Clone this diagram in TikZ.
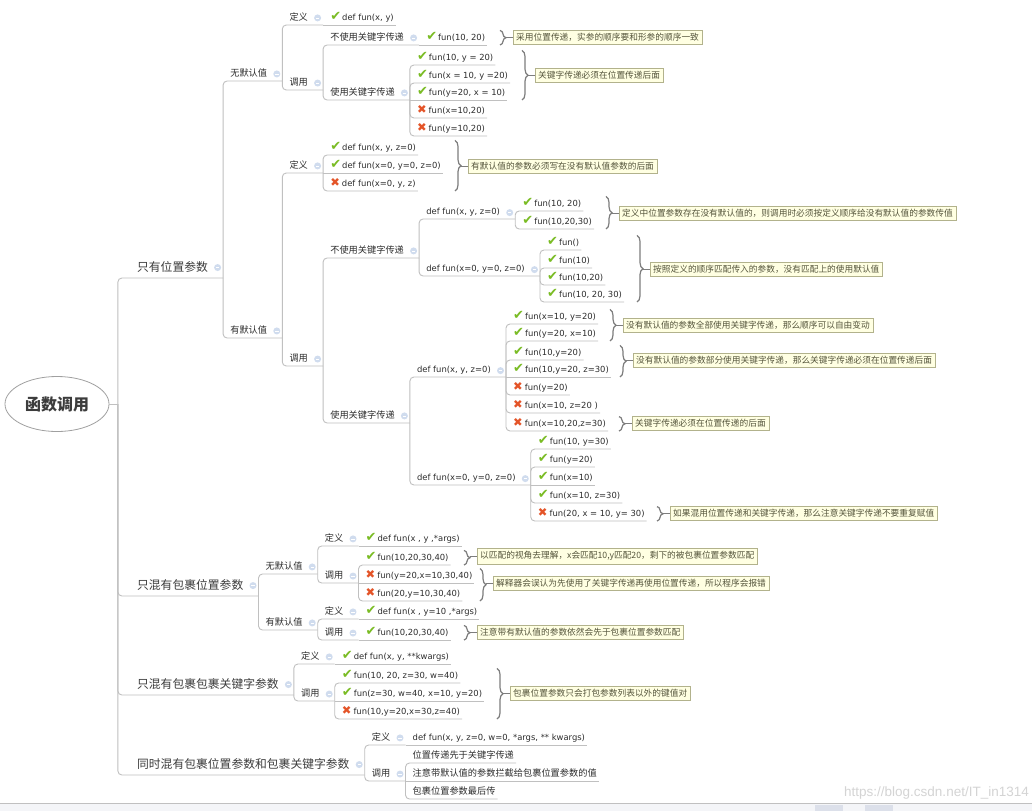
\documentclass[tikz,border=0pt]{standalone}
\usepackage{fontspec}
\usetikzlibrary{shapes.geometric,decorations.pathreplacing}
\newfontfamily\cjk{Noto Sans CJK SC}
\newfontfamily\code{DejaVu Sans}
\newfontfamily\webfont{Liberation Sans}
\definecolor{linegray}{RGB}{192,192,192}
\definecolor{ink}{RGB}{45,45,45}
\definecolor{topicink}{RGB}{60,60,60}
\definecolor{rootline}{RGB}{160,160,160}
\definecolor{knobfill}{RGB}{208,220,238}
\definecolor{notefill}{RGB}{255,255,226}
\definecolor{noteline}{RGB}{178,178,140}
\definecolor{notetext}{RGB}{85,85,60}
\definecolor{bracegray}{RGB}{125,125,125}
\definecolor{okgreen}{RGB}{122,188,36}
\definecolor{badred}{RGB}{228,84,40}
\definecolor{wmgray}{RGB}{212,212,212}
\definecolor{stripfill}{RGB}{244,245,248}
\definecolor{tabfill}{RGB}{220,224,234}
\newcommand{\good}{{\code\fontsize{13}{12}\selectfont\color{okgreen}✔}\hspace{1pt}}
\newcommand{\bad}{{\code\fontsize{11.5}{12}\selectfont\color{badred}✖}\hspace{2pt}}

\begin{document}
\begin{tikzpicture}[x=1pt,y=-1pt,font=\cjk,
    branch/.style={draw=linegray,line width=0.9pt,rounded corners=4pt},
    item/.style={anchor=south west,xshift=5pt,inner xsep=2pt,inner ysep=2pt,text depth=2pt,text=ink,font=\cjk\fontsize{9.2}{11}\selectfont},
    topic/.style={anchor=south west,xshift=17pt,inner xsep=2pt,inner ysep=4pt,text depth=2.5pt,text=topicink,font=\cjk\fontsize{11.8}{14}\selectfont},
    leaf/.style={item,font=\code\fontsize{8.4}{10}\selectfont},
    knob/.style={execute at end node={\hspace*{13pt}}},
    expander/.style={circle,fill=knobfill,inner sep=0pt,minimum size=7pt},
    note/.style={anchor=west,draw=noteline,fill=notefill,inner xsep=3pt,inner ysep=3pt,text=notetext,font=\cjk\fontsize{8.7}{10}\selectfont},
    brace/.style={draw=bracegray,line width=1.2pt,decorate,decoration={brace,amplitude=6pt,raise=-13pt}},
    tie/.style={draw=bracegray,line width=0.8pt},
    root/.style={ellipse,draw=rootline,line width=0.8pt,minimum width=104pt,minimum height=55pt,inner sep=0pt,text=topicink,font=\cjk\bfseries\fontsize{16}{18}\selectfont}]
    \useasboundingbox[fill=white] (0,0) rectangle (1032,811);

    \node[root] (root) at (57,404) {函数调用};
    \coordinate (hub) at ([xshift=8.5pt]root.east);

    % 只有位置参数
    \node[topic,knob] (pos) at (hub |- 0,278) {只有位置参数};
    \node[item,knob] (pnd) at (pos.south east |- 0,81) {无默认值};
    \node[item,knob] (pnddef) at (pnd.south east |- 0,25) {定义};
    \node[leaf] (pnddef1) at (pnddef.south east) {\good def fun(x, y)};
    \node[item,knob] (pndcall) at (pnd.south east |- 0,90) {调用};
    \node[item,knob] (pnk) at (pndcall.south east |- 0,45) {不使用关键字传递};
    \node[leaf] (pnk1) at (pnk.south east) {\good fun(10, 20)};
    \node[item,knob] (puk) at (pndcall.south east |- 0,100) {使用关键字传递};
    \node[leaf] (puk1) at (puk.south east |- 0,65) {\good fun(10, y = 20)};
    \node[leaf] (puk2) at (puk.south east |- 0,83) {\good fun(x = 10, y =20)};
    \node[leaf] (puk3) at (puk.south east) {\good fun(y=20, x = 10)};
    \node[leaf] (puk4) at (puk.south east |- 0,118) {\bad fun(x=10,20)};
    \node[leaf] (puk5) at (puk.south east |- 0,136) {\bad fun(y=10,20)};

    \node[item,knob] (pyd) at (pos.south east |- 0,338) {有默认值};
    \node[item,knob] (pyddef) at (pyd.south east |- 0,173) {定义};
    \node[leaf] (pyddef1) at (pyddef.south east |- 0,155) {\good def fun(x, y, z=0)};
    \node[leaf] (pyddef2) at (pyddef.south east) {\good def fun(x=0, y=0, z=0)};
    \node[leaf] (pyddef3) at (pyddef.south east |- 0,191) {\bad def fun(x=0, y, z)};
    \node[item,knob] (pydcall) at (pyd.south east |- 0,366) {调用};
    \node[item,knob] (qnk) at (pydcall.south east |- 0,258) {不使用关键字传递};
    \node[leaf,knob] (qd1) at (qnk.south east |- 0,219) {def fun(x, y, z=0)};
    \node[leaf] (qd1a) at (qd1.south east |- 0,211) {\good fun(10, 20)};
    \node[leaf] (qd1b) at (qd1.south east |- 0,229) {\good fun(10,20,30)};
    \node[leaf,knob] (qd2) at (qnk.south east |- 0,276) {def fun(x=0, y=0, z=0)};
    \node[leaf] (qd2a) at (qd2.south east |- 0,250) {\good fun()};
    \node[leaf] (qd2b) at (qd2.south east |- 0,268) {\good fun(10)};
    \node[leaf] (qd2c) at (qd2.south east |- 0,285) {\good fun(10,20)};
    \node[leaf] (qd2d) at (qd2.south east |- 0,302) {\good fun(10, 20, 30)};
    \node[item,knob] (quk) at (pydcall.south east |- 0,423) {使用关键字传递};
    \node[leaf,knob] (qd3) at (quk.south east |- 0,377) {def fun(x, y, z=0)};
    \node[leaf] (qd3a) at (qd3.south east |- 0,324) {\good fun(x=10, y=20)};
    \node[leaf] (qd3b) at (qd3.south east |- 0,341) {\good fun(y=20, x=10)};
    \node[leaf] (qd3c) at (qd3.south east |- 0,360) {\good fun(10,y=20)};
    \node[leaf] (qd3d) at (qd3.south east) {\good fun(10,y=20, z=30)};
    \node[leaf] (qd3e) at (qd3.south east |- 0,395) {\bad fun(y=20)};
    \node[leaf] (qd3f) at (qd3.south east |- 0,413) {\bad fun(x=10, z=20 )};
    \node[leaf] (qd3g) at (qd3.south east |- 0,431) {\bad fun(x=10,20,z=30)};
    \node[leaf,knob] (qd4) at (quk.south east |- 0,485) {def fun(x=0, y=0, z=0)};
    \node[leaf] (qd4a) at (qd4.south east |- 0,449) {\good fun(10, y=30)};
    \node[leaf] (qd4b) at (qd4.south east |- 0,467) {\good fun(y=20)};
    \node[leaf] (qd4c) at (qd4.south east) {\good fun(x=10)};
    \node[leaf] (qd4d) at (qd4.south east |- 0,503) {\good fun(x=10, z=30)};
    \node[leaf] (qd4e) at (qd4.south east |- 0,521) {\bad fun(20, x = 10, y= 30)};

    % 只混有包裹位置参数
    \node[topic,knob] (pack) at (hub |- 0,596) {只混有包裹位置参数};
    \node[item,knob] (knd) at (pack.south east |- 0,574) {无默认值};
    \node[item,knob] (knddef) at (knd.south east |- 0,546) {定义};
    \node[leaf] (knddef1) at (knddef.south east) {\good def fun(x , y ,*args)};
    \node[item,knob] (kndcall) at (knd.south east |- 0,583) {调用};
    \node[leaf] (kndcall1) at (kndcall.south east |- 0,565) {\good fun(10,20,30,40)};
    \node[leaf] (kndcall2) at (kndcall.south east) {\bad fun(y=20,x=10,30,40)};
    \node[leaf] (kndcall3) at (kndcall.south east |- 0,601) {\bad fun(20,y=10,30,40)};
    \node[item,knob] (kyd) at (pack.south east |- 0,630) {有默认值};
    \node[item,knob] (kyddef) at (kyd.south east |- 0,619) {定义};
    \node[leaf] (kyddef1) at (kyddef.south east) {\good def fun(x , y=10 ,*args)};
    \node[item,knob] (kydcall) at (kyd.south east |- 0,640) {调用};
    \node[leaf] (kydcall1) at (kydcall.south east) {\good fun(10,20,30,40)};

    % 只混有包裹包裹关键字参数
    \node[topic,knob] (kwpack) at (hub |- 0,695) {只混有包裹包裹关键字参数};
    \node[item,knob] (wdef) at (kwpack.south east |- 0,664) {定义};
    \node[leaf] (wdef1) at (wdef.south east) {\good def fun(x, y, **kwargs)};
    \node[item,knob] (wcall) at (kwpack.south east |- 0,701) {调用};
    \node[leaf] (wcall1) at (wcall.south east |- 0,683) {\good fun(10, 20, z=30, w=40)};
    \node[leaf] (wcall2) at (wcall.south east) {\good fun(z=30, w=40, x=10, y=20)};
    \node[leaf] (wcall3) at (wcall.south east |- 0,719) {\bad fun(10,y=20,x=30,z=40)};

    % 同时混有包裹位置参数和包裹关键字参数
    \node[topic,knob] (both) at (hub |- 0,775) {同时混有包裹位置参数和包裹关键字参数};
    \node[item,knob] (bdef) at (both.south east |- 0,745) {定义};
    \node[leaf] (bdef1) at (bdef.south east) {def fun(x, y, z=0, w=0, *args, ** kwargs)};
    \node[item,knob] (bcall) at (both.south east |- 0,781) {调用};
    \node[item] (bcall1) at (bcall.south east |- 0,763) {位置传递先于关键字传递};
    \node[item] (bcall2) at (bcall.south east) {注意带默认值的参数拦截给包裹位置参数的值};
    \node[item] (bcall3) at (bcall.south east |- 0,799) {包裹位置参数最后传};

    % notes
    \node[note] (nA) at (513,37) {采用位置传递，实参的顺序要和形参的顺序一致};
    \node[note] (nB) at (535,75) {关键字传递必须在位置传递后面};
    \node[note] (nC) at (468,166) {有默认值的参数必须写在没有默认值参数的后面};
    \node[note] (nD) at (619,213) {定义中位置参数存在没有默认值的，则调用时必须按定义顺序给没有默认值的参数传值};
    \node[note] (nE) at (650,269) {按照定义的顺序匹配传入的参数，没有匹配上的使用默认值};
    \node[note] (nF) at (623,325) {没有默认值的参数全部使用关键字传递，那么顺序可以自由变动};
    \node[note] (nG) at (633,360) {没有默认值的参数部分使用关键字传递，那么关键字传递必须在位置传递后面};
    \node[note] (nH) at (632,423) {关键字传递必须在位置传递的后面};
    \node[note] (nI) at (670,513) {如果混用位置传递和关键字传递，那么注意关键字传递不要重复赋值};
    \node[note] (nJ) at (477,556) {以匹配的视角去理解，x会匹配10,y匹配20，剩下的被包裹位置参数匹配};
    \node[note] (nK) at (493,583) {解释器会误认为先使用了关键字传递再使用位置传递，所以程序会报错};
    \node[note] (nL) at (477,632) {注意带有默认值的参数依然会先于包裹位置参数匹配};
    \node[note] (nM) at (510,693) {包裹位置参数只会打包参数列表以外的键值对};

    % branches
    \draw[branch] (root.east) -- (hub);
    \foreach \c in {pos,pack,kwpack,both}
        \draw[branch] (hub) |- (\c.south east);
    \foreach \p/\c in {pos/pnd,pos/pyd,pnd/pnddef,pnd/pndcall,pndcall/pnk,pndcall/puk,
        puk/puk1,puk/puk2,puk/puk4,puk/puk5,pyd/pyddef,pyd/pydcall,pyddef/pyddef1,pyddef/pyddef3,
        pydcall/qnk,pydcall/quk,qnk/qd1,qnk/qd2,qd1/qd1a,qd1/qd1b,qd2/qd2a,qd2/qd2b,qd2/qd2c,qd2/qd2d,
        quk/qd3,quk/qd4,qd3/qd3a,qd3/qd3b,qd3/qd3c,qd3/qd3e,qd3/qd3f,qd3/qd3g,
        qd4/qd4a,qd4/qd4b,qd4/qd4d,qd4/qd4e,pack/knd,pack/kyd,knd/knddef,knd/kndcall,
        kndcall/kndcall1,kndcall/kndcall3,kyd/kyddef,kyd/kydcall,kwpack/wdef,kwpack/wcall,
        wcall/wcall1,wcall/wcall3,both/bdef,both/bcall,bcall/bcall1,bcall/bcall3}
        \draw[branch] (\p.south east) |- (\c.south east);
    \foreach \p/\c in {pnddef/pnddef1,pnk/pnk1,puk/puk3,pyddef/pyddef2,qd3/qd3d,qd4/qd4c,
        knddef/knddef1,kndcall/kndcall2,kyddef/kyddef1,kydcall/kydcall1,wdef/wdef1,wcall/wcall2,
        bdef/bdef1,bcall/bcall2}
        \draw[branch] (\p.south east) -- (\c.south east);

    % braces
    \foreach \n/\t/\b in {nA/pnk1/pnk1,nB/puk1/puk3,nC/pyddef1/pyddef3,nD/qd1a/qd1b,nE/qd2a/qd2d,
        nF/qd3a/qd3b,nG/qd3c/qd3d,nH/qd3g/qd3g,nI/qd4e/qd4e,nJ/kndcall1/kndcall1,
        nK/kndcall2/kndcall3,nL/kydcall1/kydcall1,nM/wcall1/wcall3} {
        \draw[brace] (\n.west |- \t.north) -- (\n.west |- \b.south);
        \draw[tie] (\n.west) -- ++(-7,0);
    }

    % expanders
    \foreach \n in {pos,pnd,pnddef,pndcall,pnk,puk,pyd,pyddef,pydcall,qnk,qd1,qd2,quk,qd3,qd4,
        pack,knd,knddef,kndcall,kyd,kyddef,kydcall,kwpack,wdef,wcall,both,bdef,bcall}
        \node[expander] (k\n) at ([xshift=-5.5pt]\n.east) {\textcolor{white}{\rule{3.4pt}{0.7pt}}};

    % page strip
    \fill[stripfill] (0,803) rectangle (1032,811);
    \draw[linegray,line width=0.6pt] (0,803) -- (1032,803);
    \fill[tabfill] (815,805) rectangle (843,811);
    \fill[tabfill] (865,805) rectangle (893,811);
    \node[anchor=east,inner sep=0pt,text=wmgray,font=\webfont\fontsize{13.5}{15}\selectfont] (wm) at (1029,793) {https://blog.csdn.net/IT\_in1314};
\end{tikzpicture}
\end{document}
